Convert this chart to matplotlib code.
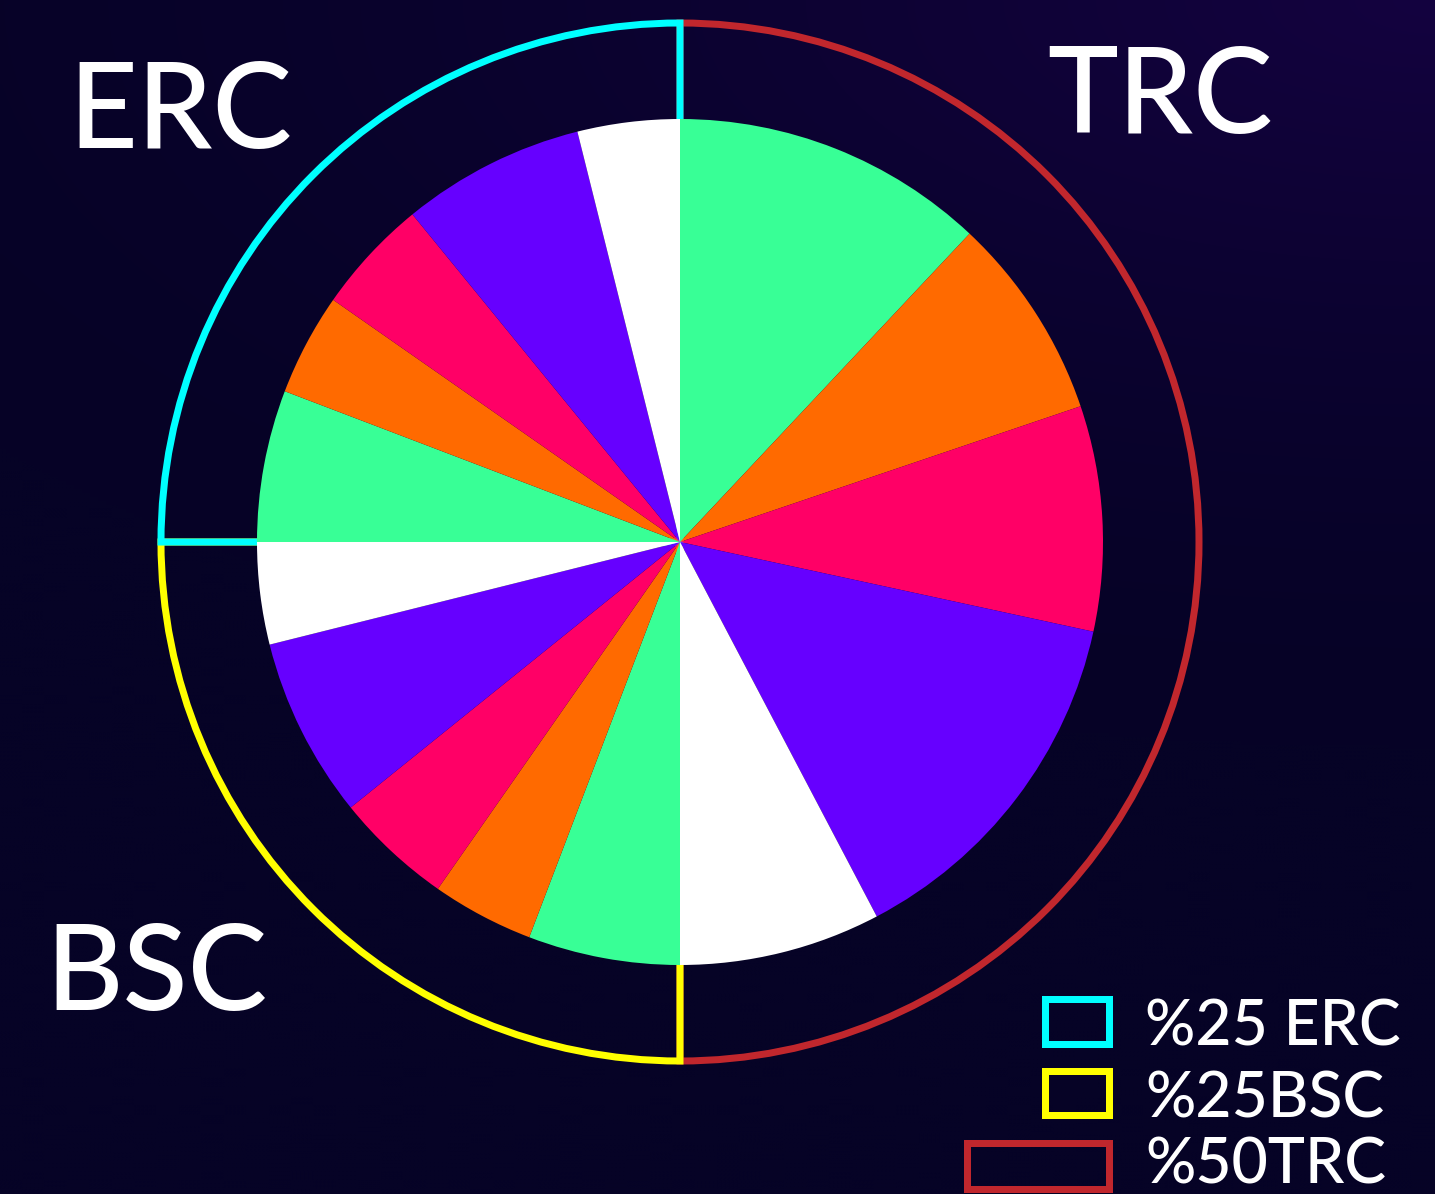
import numpy as np
import matplotlib
matplotlib.use('Agg')
import matplotlib.pyplot as plt
from matplotlib.patches import Wedge, Rectangle

# slice shares in percent, clockwise from 12 o'clock
trc_vals = [12.0, 7.8, 8.6, 13.9, 7.7]
bsc_vals = [5.8, 3.9, 4.5, 6.9, 3.9]
erc_vals = [5.8, 3.9, 4.4, 7.0, 3.9]
slice_colors = ['#38ff96', '#ff6a00', '#ff0066', '#6600ff', '#ffffff']

groups = ['ERC', 'BSC', 'TRC']
group_share = [25, 25, 50]
group_colors = ['#00ffff', '#ffff00', '#c1272d']
legend_labels = ['%25 ERC', '%25BSC', '%50TRC']

W, H = 1435, 1194
dpi = 100
fig = plt.figure(figsize=(W / dpi, H / dpi), dpi=dpi)
ax = fig.add_axes([0, 0, 1, 1])

# background: dark navy with a purple glow toward the top right
yy, xx = np.mgrid[0:H:4, 0:W:4]
d = np.hypot((xx - W) / W * 0.8, (yy - H) / H * 1.6)
f = np.clip(1 - d / 1.0, 0, 1) ** 1.6
base = np.array([6, 3, 38]) / 255
glow = np.array([20, 2, 64]) / 255
bg = base + (glow - base) * f[..., None]
ax.imshow(bg, extent=[0, W, 0, H], origin='lower', zorder=0, interpolation='bilinear')

cx, cy = 680, 652
r_pie, r_ring = 423, 519
lw = 7 * 72 / dpi

# outer ring: one sector outline per network, 25/25/50 share
bounds = np.cumsum([0] + group_share) / 100 * 360
angles = {}
for g, a0, a1 in zip(groups, bounds[:-1], bounds[1:]):
    # counter-clockwise from 12 o'clock: ERC top-left, BSC bottom-left, TRC right
    angles[g] = (90 + a0, 90 + a1)
for g in ['TRC', 'BSC', 'ERC']:
    t1, t2 = angles[g]
    c = group_colors[groups.index(g)]
    ax.add_patch(Wedge((cx, cy), r_ring, t1, t2, fill=False, edgecolor=c,
                       linewidth=lw, joinstyle='miter', zorder=2))

vals = trc_vals + bsc_vals + erc_vals
cols = slice_colors * 3
ax.pie(vals, colors=cols, startangle=90, counterclock=False, center=(cx, cy),
       radius=r_pie, wedgeprops=dict(linewidth=0, zorder=3), frame=True)
ax.set_xlim(0, W)
ax.set_ylim(0, H)
ax.set_aspect('equal')
ax.axis('off')

font = 'Lato'
big = dict(color='white', fontsize=86, family=font, fontweight='medium',
           ha='center', va='center', zorder=5)
ax.text(180, 1080, 'ERC', **big)
ax.text(1160, 1095, 'TRC', **big)
ax.text(157, 218, 'BSC', **big)

# legend
boxes = [(1044.5, 150.5, 64, 45), (1044.5, 79.5, 64, 44), (966.5, 5.5, 142, 46)]
text_y = [167, 95, 28]
for (x, y, w, h), c, lab, ty in zip(boxes, group_colors, legend_labels, text_y):
    ax.add_patch(Rectangle((x, y), w, h, fill=False, edgecolor=c, linewidth=lw,
                           joinstyle='miter', zorder=4))
    ax.text(1145, ty, lab, color='white', fontsize=45, family=font,
            fontweight='medium', ha='left', va='center', zorder=5)

fig.savefig('out.png', dpi=dpi)
